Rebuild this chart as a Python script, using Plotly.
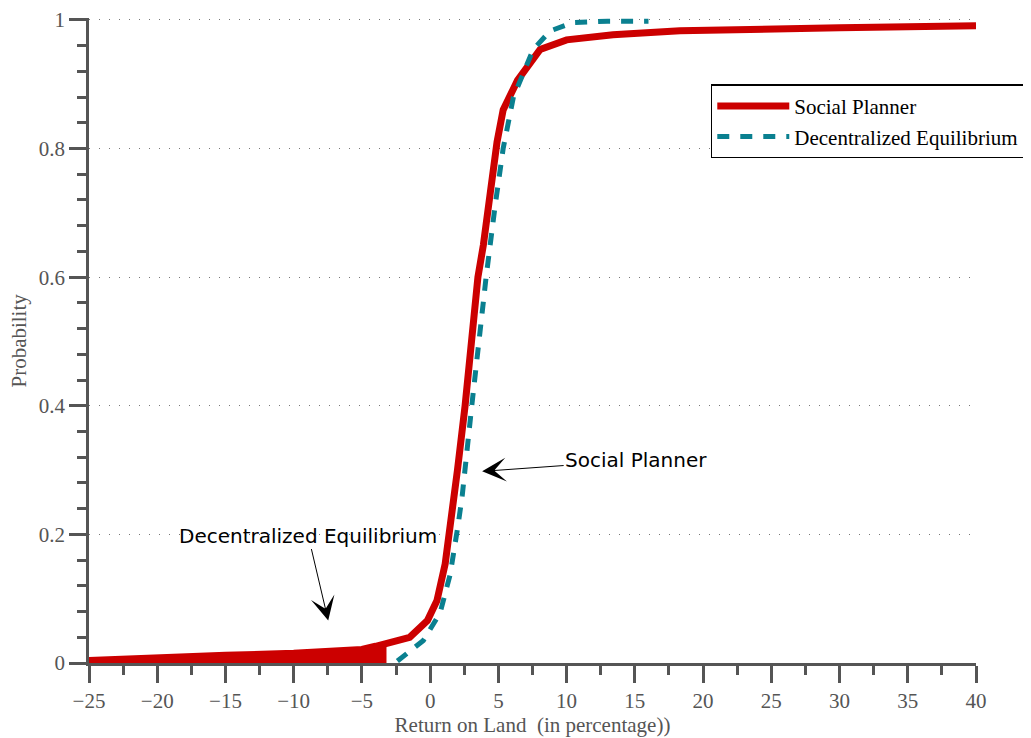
import plotly.graph_objects as go

# ── Data (CDF of return on land, in %) ─────────────────────────────────
planner_x = [-25, -20, -15, -10, -6, -5, -4, -3.2, -2.2, -1.5, -0.2, 0.5, 1.1, 1.6,
             2.0, 2.56, 2.9, 3.5, 3.9, 4.5, 4.9, 5.35, 6.4, 8.06, 10, 13.4, 18.3, 30, 40]
planner_y = [0.004, 0.009, 0.012, 0.015, 0.018, 0.021, 0.026, 0.030, 0.034, 0.040, 0.066,
             0.097, 0.154, 0.23, 0.30, 0.40, 0.47, 0.6, 0.65, 0.76, 0.81, 0.86, 0.906,
             0.954, 0.969, 0.977, 0.983, 0.988, 0.991]

# shaded mass of the planner curve below -3.2
mass_x = planner_x[:8]
mass_y = planner_y[:8]

decentral_x = [-2.4, -0.5, 0.73, 1.47, 2.05, 2.35, 3.05, 3.9, 4.1, 4.76, 5.35, 6.1,
               7.55, 8.8, 10.5, 13, 16]
decentral_y = [0.003, 0.035, 0.078, 0.138, 0.215, 0.26, 0.40, 0.568, 0.6, 0.711, 0.8,
               0.88, 0.954, 0.983, 0.996, 0.998, 0.998]

y_ticks = [0, 0.2, 0.4, 0.6, 0.8, 1]
y_labels = ["0", "0.2", "0.4", "0.6", "0.8", "1"]

RED = "#cc0000"
TEAL = "#0a8090"
AXIS = "#555555"

fig = go.Figure()

fig.add_trace(go.Scatter(
    x=mass_x, y=mass_y, mode="lines", fill="tozeroy",
    fillcolor=RED, line=dict(width=0, color=RED),
    showlegend=False, hoverinfo="skip",
))
fig.add_trace(go.Scatter(
    x=planner_x, y=planner_y, mode="lines", name="Social Planner",
    line=dict(color=RED, width=7),
))
fig.add_trace(go.Scatter(
    x=decentral_x, y=decentral_y, mode="lines", name="Decentralized Equilibrium",
    line=dict(color=TEAL, width=5, dash="12px,11px"),
))

ann_font = dict(family="DejaVu Sans", size=20, color="black")
fig.add_annotation(
    x=3.81, y=0.298, text="Social Planner", font=ann_font,
    showarrow=True, arrowhead=3, arrowsize=4, arrowwidth=1, arrowcolor="black",
    ax=154, ay=-11,
)
fig.add_annotation(
    x=-7.47, y=0.066, text="Decentralized Equilibrium", font=ann_font,
    showarrow=True, arrowhead=3, arrowsize=4, arrowwidth=1, arrowcolor="black",
    ax=-20, ay=-85,
)

serif = dict(family="Liberation Serif", size=21, color=AXIS)

# y label placed by hand so it sits as far left as in the original
fig.add_annotation(
    x=-0.08, y=0.5, xref="paper", yref="paper", text="Probability",
    textangle=-90, showarrow=False, font=serif, xanchor="center", yanchor="middle",
)

fig.update_xaxes(
    range=[-25, 40], dtick=5, tick0=-25, automargin=False,
    showline=True, linecolor=AXIS, linewidth=2.5,
    ticks="outside", ticklen=17, tickwidth=2.5, tickcolor=AXIS,
    minor=dict(dtick=2.5, ticks="outside", ticklen=9, tickwidth=2.5, tickcolor=AXIS),
    showgrid=False, zeroline=False,
    tickfont=serif, ticklabeloverflow="allow",
    title=dict(text="Return on Land  (in percentage))", font=serif, standoff=0),
)
fig.update_yaxes(
    range=[0, 1.003], tickvals=y_ticks, ticktext=y_labels, automargin=False,
    showline=True, linecolor=AXIS, linewidth=2.5,
    ticks="outside", ticklen=17, tickwidth=2.5, tickcolor=AXIS,
    minor=dict(dtick=0.04, tick0=0, ticks="outside", ticklen=9, tickwidth=2.5,
               tickcolor=AXIS, showgrid=False),
    showgrid=True, gridcolor="#777777", griddash="1px,9px", gridwidth=1.2,
    zeroline=False,
    tickfont=serif, ticklabeloverflow="allow",
)

fig.update_layout(
    width=1031, height=738,
    margin=dict(l=81, r=63, t=10, b=83),
    plot_bgcolor="white", paper_bgcolor="white",
    showlegend=True,
    legend=dict(
        x=0.701, y=0.897, xanchor="left", yanchor="top",
        bgcolor="white", bordercolor="black", borderwidth=1.5,
        font=dict(family="Liberation Serif", size=21, color="black"),
        itemwidth=72, tracegroupgap=0,
    ),
)

fig.write_html("out.html")
